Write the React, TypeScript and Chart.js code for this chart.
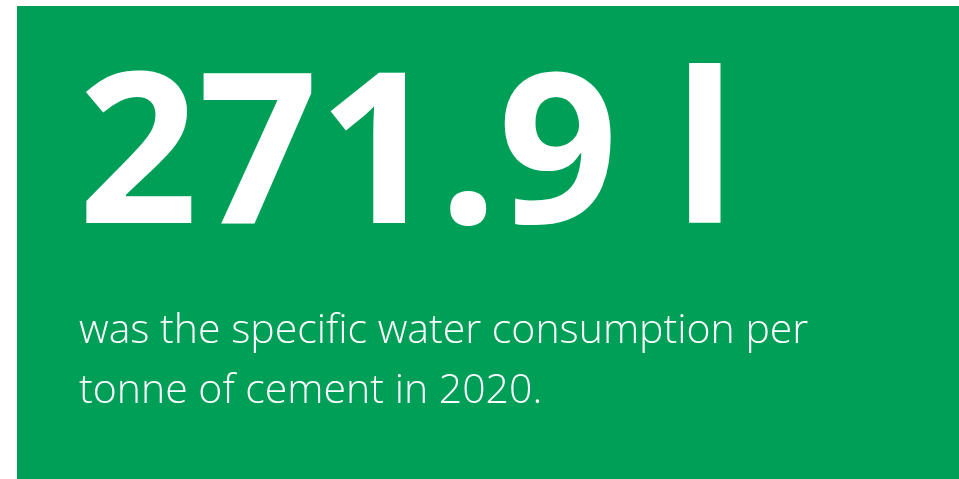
import React, { useEffect, useRef } from "react";
import { Chart, registerables } from "chart.js";

Chart.register(...registerables);

const headlineValue = ["271.9"];
const headlineUnit = ["l"];
const captionLines = ["was the specific water consumption per", "tonne of cement in 2020."];
const tileColor = "#009F58";

const tilePlugin = {
  id: "kpiTile",
  beforeDraw(chart: any) {
    const ctx = chart.ctx;
    ctx.save();
    ctx.fillStyle = "#ffffff";
    ctx.fillRect(0, 0, chart.width, chart.height);
    ctx.fillStyle = tileColor;
    ctx.fillRect(17, 6, chart.width - 17, chart.height - 6);
    ctx.restore();
  },
  afterDraw(chart: any) {
    const ctx = chart.ctx;
    ctx.save();
    ctx.fillStyle = "#ffffff";
    ctx.textBaseline = "alphabetic";
    ctx.textAlign = "left";
    ctx.font = "bold 210px 'Open Sans', 'DejaVu Sans', sans-serif";
    ctx.fillText(headlineValue[0] + " " + headlineUnit[0], 78, 223);
    ctx.font = "300 41px 'Open Sans', 'DejaVu Sans', sans-serif";
    captionLines.forEach((line, i) => {
      ctx.fillText(line, 79, 343 + i * 60);
    });
    ctx.restore();
  },
};

export default function App() {
  const ref = useRef<HTMLCanvasElement | null>(null);
  useEffect(() => {
    document.body.style.margin = "0";
    if (!ref.current) return;
    const chart = new Chart(ref.current, {
      type: "bar",
      data: { labels: [], datasets: [] },
      options: {
        animation: false,
        responsive: false,
        events: [],
        plugins: { legend: { display: false }, tooltip: { enabled: false }, title: { display: false } },
        scales: { x: { display: false }, y: { display: false } },
      },
      plugins: [tilePlugin],
    });
    return () => chart.destroy();
  }, []);
  return (
    <div style={{ width: 959, height: 479 }}>
      <canvas ref={ref} width={959} height={479} style={{ display: "block" }} />
    </div>
  );
}
